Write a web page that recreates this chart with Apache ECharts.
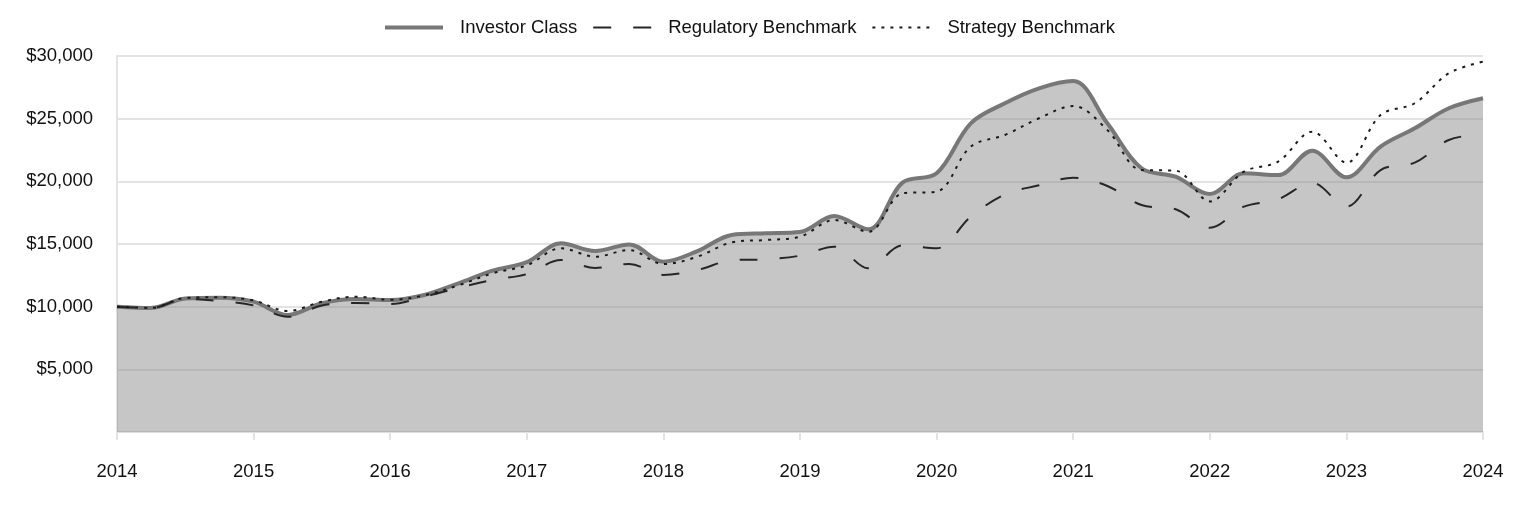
<!DOCTYPE html>
<html>
<head>
<meta charset="utf-8">
<script src="https://cdn.jsdelivr.net/npm/echarts@6/dist/echarts.min.js"></script>
<style>
html,body{margin:0;padding:0;background:#fff;}
#chart{width:1524px;height:516px;}
</style>
</head>
<body>
<div id="chart"></div>
<script>
const categories = [
 '2014 Q1','2014 Q2','2014 Q3','2014 Q4',
 '2015 Q1','2015 Q2','2015 Q3','2015 Q4',
 '2016 Q1','2016 Q2','2016 Q3','2016 Q4',
 '2017 Q1','2017 Q2','2017 Q3','2017 Q4',
 '2018 Q1','2018 Q2','2018 Q3','2018 Q4',
 '2019 Q1','2019 Q2','2019 Q3','2019 Q4',
 '2020 Q1','2020 Q2','2020 Q3','2020 Q4',
 '2021 Q1','2021 Q2','2021 Q3','2021 Q4',
 '2022 Q1','2022 Q2','2022 Q3','2022 Q4',
 '2023 Q1','2023 Q2','2023 Q3','2023 Q4',
 '2024 Q1'
];
const investorClass = [
 10000, 9900, 10650, 10720,
 10400, 9340, 10270, 10610,
 10530, 10930, 11860, 12870,
 13550, 15050, 14440, 14970,
 13590, 14440, 15720, 15850,
 15950, 17230, 16170, 19900,
 20640, 24630, 26230, 27420,
 28000, 24630, 21040, 20370,
 18990, 20640, 20500, 22440,
 20320, 22770, 24230, 25830,
 26630
];
const regulatoryBenchmark = [
 10000, 9900, 10600, 10450,
 10100, 9200, 10100, 10300,
 10210, 10800, 11500, 12130,
 12600, 13720, 13090, 13400,
 12530, 12930, 13700, 13780,
 14070, 14790, 13060, 14880,
 14660, 17180, 18960, 19680,
 20290, 19630, 18110, 17770,
 16300, 17980, 18570, 19890,
 17980, 20900, 21490, 23300,
 23780
];
const strategyBenchmark = [
 10000, 9900, 10700, 10750,
 10500, 9650, 10400, 10800,
 10550, 10900, 11700, 12660,
 13300, 14660, 13990, 14520,
 13400, 13990, 15130, 15320,
 15580, 16910, 15980, 19040,
 19180, 22770, 23700, 25030,
 26010, 24100, 20900, 20850,
 18400, 20770, 21570, 23960,
 21490, 25290, 26230, 28620,
 29550
];
const seriesNames = ['Investor Class','Regulatory Benchmark','Strategy Benchmark'];

const FONT = '"Liberation Sans", Arial, sans-serif';
const chart = echarts.init(document.getElementById('chart'), null, {renderer:'canvas'});
chart.setOption({
  animation: false,
  backgroundColor: '#ffffff',
  legend: {
    top: 13,
    left: 378,
    itemWidth: 58,
    itemHeight: 14,
    itemGap: 15,
    itemStyle: {opacity: 0},
    textStyle: {fontFamily: FONT, fontSize: 18.5, color: '#111', padding: [0,0,0,12]},
    data: [
      {name: seriesNames[0], lineStyle: {width: 4, color: '#777777'}},
      {name: seriesNames[1]},
      {name: seriesNames[2]}
    ]
  },
  grid: {left: 117, right: 41, top: 56, bottom: 84, containLabel: false},
  xAxis: {
    type: 'category',
    data: categories,
    boundaryGap: false,
    axisLine: {show: true, lineStyle: {color: '#dedede', width: 2}},
    axisTick: {show: true, interval: 3, length: 8, lineStyle: {color: '#e3e3e3', width: 2}},
    axisLabel: {
      interval: 3, margin: 30, fontFamily: FONT, fontSize: 18.5, color: '#111',
      formatter: v => v.slice(0,4)
    },
    splitLine: {show: false}
  },
  yAxis: {
    type: 'value',
    min: 0, max: 30000, interval: 5000,
    axisLine: {show: true, lineStyle: {color: '#e3e3e3', width: 2}},
    axisTick: {show: false},
    axisLabel: {
      margin: 24, fontFamily: FONT, fontSize: 18.5, color: '#111',
      formatter: v => v === 0 ? '' : '$' + v.toLocaleString('en-US')
    },
    splitLine: {show: true, lineStyle: {color: '#e3e3e3', width: 2}}
  },
  series: [
    {
      name: seriesNames[0], type: 'line', data: investorClass,
      smooth: 0.35, symbol: 'none', z: 2,
      lineStyle: {color: '#777777', width: 4},
      itemStyle: {color: '#777777'},
      areaStyle: {color: 'rgba(141,141,141,0.5)', opacity: 1}
    },
    {
      name: seriesNames[1], type: 'line', data: regulatoryBenchmark,
      smooth: 0.35, symbol: 'none', z: 3,
      lineStyle: {color: '#262626', width: 2, type: [18, 22]},
      itemStyle: {color: '#262626'}
    },
    {
      name: seriesNames[2], type: 'line', data: strategyBenchmark,
      smooth: 0.35, symbol: 'none', z: 3,
      lineStyle: {color: '#1a1a1a', width: 2, type: [3, 6]},
      itemStyle: {color: '#1a1a1a'}
    }
  ]
});
</script>
</body>
</html>
